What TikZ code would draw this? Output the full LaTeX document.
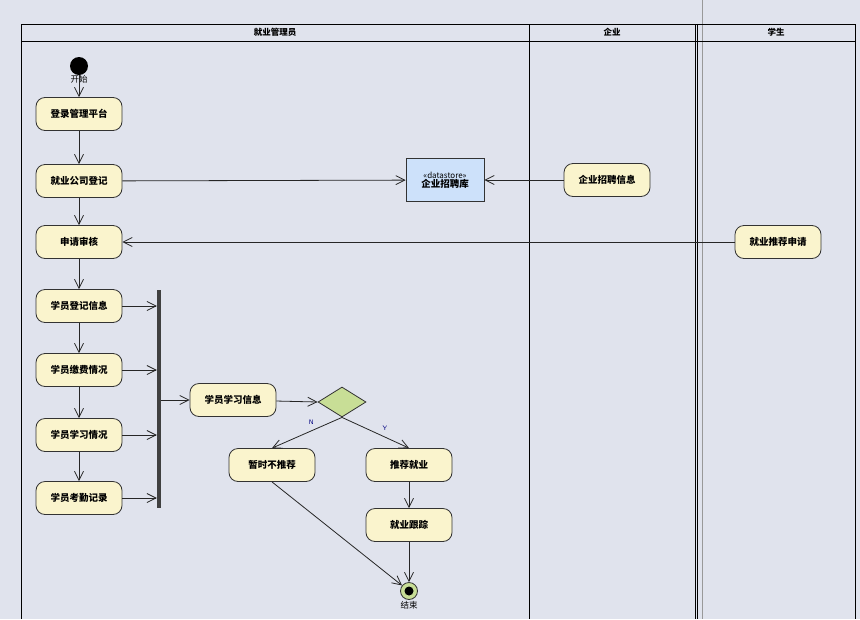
\documentclass[tikz,border=0pt]{standalone}
\usepackage{fontspec}
\newfontfamily\cjk{Noto Sans CJK SC}
\usetikzlibrary{arrows.meta,shapes.geometric}
\definecolor{bg}{RGB}{224,227,237}
\definecolor{act}{RGB}{250,244,205}
\definecolor{dec}{RGB}{200,222,150}
\definecolor{ds}{RGB}{205,225,250}
\tikzset{
 act/.style={draw=black!80,line width=0.8pt,rounded corners=9pt,fill=act,minimum width=86pt,minimum height=33pt,font=\cjk\bfseries\fontsize{9.5}{11}\selectfont,inner sep=0pt},
 fl/.style={draw=black!85,line width=0.8pt,-{Straight Barb[length=9pt,width=9pt]}},
 lbl/.style={font=\cjk\fontsize{8.5}{9}\selectfont,inner sep=0pt}
}
\begin{document}
\begin{tikzpicture}[x=1pt,y=-1pt]
\fill[bg] (0,0) rectangle (860,619);
\useasboundingbox (0,0) rectangle (860,619);
\draw[gray!80,line width=0.8pt] (702,0) -- (702,619);
\draw[black,line width=1pt] (21,619) -- (21,24) -- (855,24) -- (855,619);
\draw[black,line width=1pt] (21,41) -- (855,41);
\draw[black,line width=1pt] (529,24) -- (529,619);
\draw[black,line width=1pt] (695,24) -- (695,619);
\draw[black,line width=1pt] (697,24) -- (697,619);
\node[lbl,font=\cjk\bfseries\fontsize{8.5}{9}\selectfont] (h1) at (275,32) {就业管理员};
\node[lbl,font=\cjk\bfseries\fontsize{8.5}{9}\selectfont] (h2) at (612,32) {企业};
\node[lbl,font=\cjk\bfseries\fontsize{8.5}{9}\selectfont] (h3) at (776,32) {学生};
\node[circle,fill=black,minimum size=18pt,inner sep=0pt] (start) at (79,66) {};
\node[lbl] (startl) at (79,79) {开始};
\node[act] (a1) at (79,114) {登录管理平台};
\node[act] (a2) at (79,181) {就业公司登记};
\node[act] (a3) at (79,242) {申请审核};
\node[act] (a4) at (79,306) {学员登记信息};
\node[act] (a5) at (79,370) {学员缴费情况};
\node[act] (a6) at (79,435) {学员学习情况};
\node[act] (a7) at (79,498) {学员考勤记录};
\node[fill=black!75,minimum width=4pt,minimum height=218pt,inner sep=0pt] (bar) at (159,399) {};
\node[act] (b1) at (233,400) {学员学习信息};
\node[diamond,draw=black!80,line width=0.8pt,fill=dec,minimum width=48pt,minimum height=30pt,inner sep=0pt,aspect=1.6] (d) at (342,402) {};
\node[act] (n1) at (272,465) {暂时不推荐};
\node[act] (y1) at (409,465) {推荐就业};
\node[act] (y2) at (409,525) {就业跟踪};
\node[circle,draw=black!80,line width=0.8pt,fill=dec,minimum size=17pt,inner sep=0pt] (end) at (409,591) {};
\node[circle,fill=black,minimum size=9pt,inner sep=0pt] (endd) at (409,591) {};
\node[lbl] (endl) at (409,605) {结束};
\node[draw=black!80,line width=0.8pt,fill=ds,minimum width=78pt,minimum height=43pt,inner sep=0pt,align=center,font=\cjk\bfseries\fontsize{9.5}{11}\selectfont] (dsn) at (445,180) {{\mdseries\fontsize{8}{9}\selectfont «datastore»}\\[-2pt]企业招聘库};
\node[act] (e1) at (607,180) {企业招聘信息};
\node[act] (s1) at (778,242) {就业推荐申请};
\draw[fl] (start) -- (a1);
\draw[fl] (a1) -- (a2);
\draw[fl] (a2) -- (a3);
\draw[fl] (a3) -- (a4);
\draw[fl] (a4) -- (a5);
\draw[fl] (a5) -- (a6);
\draw[fl] (a6) -- (a7);
\draw[fl] (a2) -- (dsn);
\draw[fl] (e1) -- (dsn);
\draw[fl] (s1) -- (a3);
\draw[fl] (a4.east) -- (bar.west |- a4);
\draw[fl] (a5.east) -- (bar.west |- a5);
\draw[fl] (a6.east) -- (bar.west |- a6);
\draw[fl] (a7.east) -- (bar.west |- a7);
\draw[fl] (bar.east |- b1) -- (b1.west);
\draw[fl] (b1) -- (d.west);
\draw[fl] (d.south) -- node[pos=0.35,above left,font=\sffamily\fontsize{6.5}{7}\selectfont,text=blue!50!black] {N} (n1.north);
\draw[fl] (d.south) -- node[pos=0.55,above right,font=\sffamily\fontsize{6.5}{7}\selectfont,text=blue!50!black] {Y} (y1.north);
\draw[fl] (y1) -- (y2);
\draw[fl] (y2) -- (end);
\draw[fl] (n1.south) -- (end);
\end{tikzpicture}
\end{document}
